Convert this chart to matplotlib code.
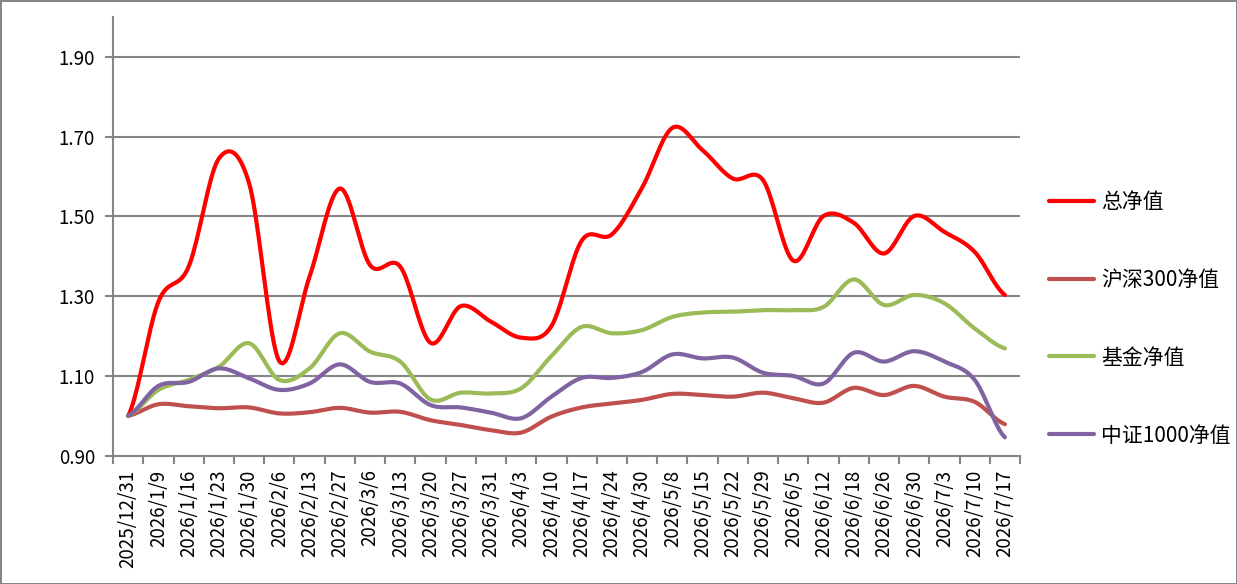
import numpy as np
import matplotlib
matplotlib.use('Agg')
import matplotlib.pyplot as plt
from matplotlib.ticker import FixedLocator, FixedFormatter

plt.rcParams['font.family'] = ['Noto Sans CJK SC', 'DejaVu Sans']

dates = ['2025/12/31', '2026/1/9', '2026/1/16', '2026/1/23', '2026/1/30', '2026/2/6',
         '2026/2/13', '2026/2/27', '2026/3/6', '2026/3/13', '2026/3/20', '2026/3/27',
         '2026/3/31', '2026/4/3', '2026/4/10', '2026/4/17', '2026/4/24', '2026/4/30',
         '2026/5/8', '2026/5/15', '2026/5/22', '2026/5/29', '2026/6/5', '2026/6/12',
         '2026/6/18', '2026/6/26', '2026/6/30', '2026/7/3', '2026/7/10', '2026/7/17']

total_nav = [1.00, 1.286, 1.374, 1.645, 1.583, 1.137, 1.349, 1.570, 1.378, 1.374,
             1.183, 1.275, 1.236, 1.196, 1.225, 1.439, 1.455, 1.572, 1.722, 1.666,
             1.595, 1.591, 1.389, 1.501, 1.484, 1.407, 1.501, 1.461, 1.411, 1.303]
hs300_nav = [1.00, 1.029, 1.024, 1.019, 1.021, 1.006, 1.009, 1.020, 1.008, 1.010,
             0.989, 0.977, 0.964, 0.958, 0.998, 1.021, 1.031, 1.040, 1.055, 1.052,
             1.048, 1.058, 1.044, 1.033, 1.070, 1.052, 1.075, 1.048, 1.035, 0.979]
fund_nav = [1.00, 1.065, 1.090, 1.123, 1.182, 1.090, 1.119, 1.207, 1.161, 1.136,
            1.041, 1.058, 1.056, 1.069, 1.150, 1.223, 1.207, 1.215, 1.248, 1.259,
            1.261, 1.265, 1.265, 1.273, 1.342, 1.278, 1.303, 1.282, 1.219, 1.169]
zz1000_nav = [1.00, 1.075, 1.085, 1.119, 1.094, 1.065, 1.081, 1.129, 1.085, 1.081,
              1.027, 1.021, 1.008, 0.994, 1.048, 1.095, 1.095, 1.110, 1.154, 1.144,
              1.146, 1.108, 1.100, 1.081, 1.158, 1.136, 1.162, 1.136, 1.090, 0.946]

series = [('总净值', total_nav, '#FF0000'),
          ('沪深300净值', hs300_nav, '#C0504D'),
          ('基金净值', fund_nav, '#9BBB59'),
          ('中证1000净值', zz1000_nav, '#8064A2')]


def smooth(y, n=20):
    # Catmull-Rom style smoothing like Excel's smoothed line
    y = np.asarray(y, dtype=float)
    p = np.concatenate([[y[0]], y, [y[-1]]])
    xs, ys = [], []
    for i in range(len(y) - 1):
        p0, p1, p2, p3 = p[i], p[i + 1], p[i + 2], p[i + 3]
        m1 = (p2 - p0) / 2.0
        m2 = (p3 - p1) / 2.0
        t = np.linspace(0, 1, n, endpoint=False)
        h00 = 2 * t**3 - 3 * t**2 + 1
        h10 = t**3 - 2 * t**2 + t
        h01 = -2 * t**3 + 3 * t**2
        h11 = t**3 - t**2
        xs.append(i + t)
        ys.append(h00 * p1 + h10 * m1 + h01 * p2 + h11 * m2)
    xs.append([len(y) - 1])
    ys.append([y[-1]])
    return np.concatenate(xs), np.concatenate(ys)


fig = plt.figure(figsize=(12.37, 5.84), dpi=100, edgecolor='#868686', linewidth=2)
ax = fig.add_axes([0.0914, 0.2197, 0.7332, 0.7512])

grid_c = '#868686'
yticks = [0.9, 1.1, 1.3, 1.5, 1.7, 1.9]
for yv in yticks[1:]:
    ax.axhline(yv, color=grid_c, lw=1.5, zorder=1)

for name, vals, col in series:
    sx, sy = smooth(vals)
    ax.plot(sx, sy, color=col, lw=3, label=name, solid_capstyle='round', zorder=3)

ax.set_xlim(-0.5, len(dates) - 0.5)
ax.set_ylim(0.9, 2.0)
ax.set_yticks(yticks)
ax.set_yticklabels(['%.2f' % v for v in yticks])

ax.xaxis.set_major_locator(FixedLocator(range(len(dates))))
ax.xaxis.set_major_formatter(FixedFormatter(dates))
ax.xaxis.set_minor_locator(FixedLocator(np.arange(-0.5, len(dates), 1.0)))
ax.tick_params(axis='x', which='major', length=0, pad=10, labelsize=13.5, rotation=90)
ax.tick_params(axis='x', which='minor', length=6, width=1.5, color=grid_c)
ax.tick_params(axis='y', length=6, width=1.5, color=grid_c, pad=7, labelsize=13.5)

for s in ['top', 'right']:
    ax.spines[s].set_visible(False)
for s in ['left', 'bottom']:
    ax.spines[s].set_color(grid_c)
    ax.spines[s].set_linewidth(1.5)

fig.legend(loc='center left', bbox_to_anchor=(0.8327, 0.454), frameon=False,
           fontsize=15, labelspacing=2.68, handlelength=2.16, handletextpad=0.34)

fig.savefig('out.png', dpi=100)
